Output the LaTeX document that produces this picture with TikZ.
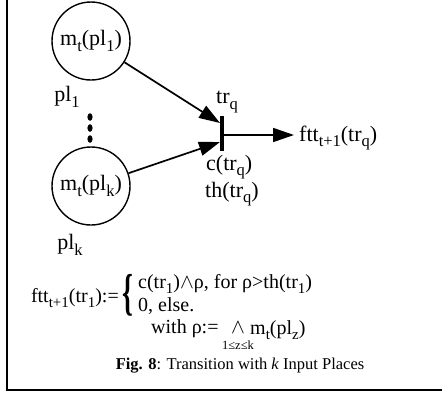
\documentclass[tikz,border=0pt]{standalone}
\usepackage{fontspec}
\usepackage{graphicx}
\setmainfont{Liberation Serif}
\usetikzlibrary{arrows.meta}
\newcommand{\sbs}[1]{\raisebox{-0.25em}{\fontsize{16.5}{18}\selectfont #1}}
\newcommand{\sbf}[1]{\raisebox{-0.28em}{\fontsize{15}{16}\selectfont #1}}
\begin{document}
\begin{tikzpicture}[x=1pt,y=-1pt,
  every node/.style={inner sep=0pt, font=\fontsize{22}{25}\selectfont},
  ftext/.style={font=\fontsize{20}{23}\selectfont},
  place/.style={draw, line width=1.4pt, circle, minimum size=78pt},
  arc/.style={line width=1.7pt, -{Triangle[length=21pt,width=14pt]}},
  tbar/.style={line width=3.6pt},
  frame/.style={line width=1.2pt},
  dot/.style={fill=black, draw=none}]
\useasboundingbox (0,0) rectangle (442,394);
\draw[frame] (7,0) -- (7,390) -- (442,390);
% places
\node[place] (p1) at (91,41) {m\sbs{t}(pl\sbs{1})};
\node[place] (pk) at (91,186) {m\sbs{t}(pl\sbs{k})};
\node (l1) at (67,97) {pl\sbs{1}};
\node (lk) at (70,245) {pl\sbs{k}};
\fill[dot] (90,117) ellipse (2.6pt and 3.8pt);
\fill[dot] (90,128) ellipse (2.6pt and 3.8pt);
\fill[dot] (90,139) ellipse (2.6pt and 3.8pt);
% transition
\coordinate (bt) at (222,116);
\coordinate (bb) at (222,151);
\draw[tbar] (bt) -- (bb);
\node[anchor=west] (trq) at (216,102) {tr\sbs{q}};
\node[anchor=west] (ctr) at (206,167) {c(tr\sbs{q})};
\node[anchor=west] (thtr) at (205,194) {th(tr\sbs{q})};
\coordinate (in1) at (220,123);
\coordinate (in2) at (220,142);
\coordinate (o0) at (224,135);
\coordinate (o1) at (294,135);
\draw[arc] (p1) -- (in1);
\draw[arc] (pk) -- (in2);
\draw[arc] (o0) -- (o1);
\node[anchor=west] (fttq) at (299,138) {ftt\sbs{t+1}(tr\sbs{q})};
% formula
\node[ftext, anchor=east] (lhs) at (119,298) {ftt\sbf{t+1}(tr\sbf{1}):=};
\node (brace) at (128,295) {\scalebox{1.25}[2.3]{\textbf{\{}}};
\node[ftext, anchor=west] (l1f) at (138,284) {c(tr\sbf{1})$\wedge$ρ, for ρ>th(tr\sbf{1})};
\node[ftext, anchor=west] (l2f) at (138,306) {0, else.};
\node[ftext, anchor=west] (w1) at (151,329) {with ρ:=};
\node (wedge) at (238,328) {$\wedge$};
\node (range) at (238,345) {\fontsize{12.5}{14}\selectfont 1≤z≤k};
\node[ftext, anchor=west] (w2) at (250,330) {m\sbf{t}(pl\sbf{z})};
% caption
\node (cap) at (240,366) {\fontsize{16.5}{19}\selectfont\textbf{Fig. 8}: Transition with \textit{k} Input Places};
\end{tikzpicture}
\end{document}
